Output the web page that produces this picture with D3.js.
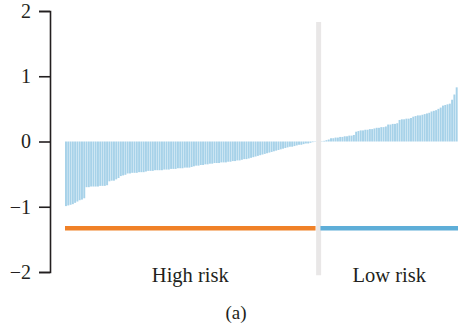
<!DOCTYPE html>
<html>
<head>
<meta charset="utf-8">
<script src="https://cdn.jsdelivr.net/npm/d3@7"></script>
<style>
    body { margin: 0; background: #fff; }
    svg text { font-family: "Liberation Serif", "DejaVu Serif", serif; fill: #231f20; }
</style>
</head>
<body>
<svg id="chart"></svg>
<script>
// risk score per patient, sorted (high risk group first)
const highRisk = [
    -0.99, -0.98, -0.97,
    -0.96, -0.94, -0.92, -0.90,
    -0.89, -0.87,
    -0.70, -0.70, -0.69, -0.69, -0.69, -0.69, -0.68, -0.68, -0.68, -0.67,
    -0.61, -0.60, -0.60, -0.58, -0.56,
    -0.53, -0.52, -0.51,
    -0.49, -0.49, -0.48, -0.48, -0.48, -0.47, -0.47, -0.47, -0.46,
    -0.45, -0.45, -0.45, -0.44, -0.44, -0.44, -0.44, -0.43, -0.43,
    -0.43, -0.42, -0.42, -0.42, -0.41, -0.41, -0.41, -0.40, -0.40, -0.40, -0.39,
    -0.38, -0.37, -0.37, -0.36, -0.36, -0.35, -0.35, -0.34, -0.34,
    -0.33, -0.33, -0.33, -0.32, -0.32, -0.32, -0.31, -0.31, -0.30, -0.30, -0.29, -0.29, -0.28,
    -0.27, -0.27, -0.26, -0.25, -0.24, -0.23, -0.22, -0.21, -0.20,
    -0.19, -0.18, -0.17, -0.16, -0.15, -0.14, -0.13, -0.12, -0.11, -0.10, -0.09, -0.08, -0.08, -0.07,
    -0.06, -0.05, -0.05, -0.04, -0.03, -0.03, -0.02, -0.01, -0.005
];
const lowRisk = [
    0.005, 0.01, 0.02, 0.03,
    0.05, 0.05, 0.06, 0.06, 0.07, 0.07, 0.08,
    0.08, 0.09, 0.09, 0.10,
    0.15, 0.16, 0.17, 0.17, 0.18, 0.18, 0.19, 0.19, 0.20,
    0.21, 0.21, 0.22, 0.22, 0.23,
    0.26, 0.26, 0.27, 0.27, 0.28,
    0.33, 0.34, 0.34, 0.35, 0.35, 0.36,
    0.38, 0.39, 0.40, 0.40, 0.41, 0.42, 0.43, 0.44,
    0.46, 0.47, 0.48, 0.50, 0.52,
    0.55, 0.56, 0.57, 0.58,
    0.64, 0.72, 0.83
];
const groupLabels = ['High risk', 'Low risk'];
const groupColors = ['#f08127', '#5eaed8'];
const yTicks = [-2, -1, 0, 1, 2];
const GAP = 2;          // empty slots between the groups
const GROUP_LINE_Y = -1.33;

const WIDTH = 461;
const HEIGHT = 328;

const svg = d3.select('#chart')
    .attr('width', WIDTH)
    .attr('height', HEIGHT);

const nTotal = highRisk.length + GAP + lowRisk.length;

const bars = highRisk.map((v, i) => ({ idx: i, v: v }))
    .concat(lowRisk.map((v, i) => ({ idx: highRisk.length + GAP + i, v: v })));

const xScale = d3.scaleLinear()
    .domain([0, nTotal])
    .range([65, 458]);
const yScale = d3.scaleLinear()
    .domain([-2, 2])
    .range([272, 11]);

const step = xScale(1) - xScale(0);

// bars
svg.append('g')
    .selectAll('rect')
    .data(bars)
    .join('rect')
    .attr('x', d => xScale(d.idx))
    .attr('width', step * 0.85)
    .attr('y', d => yScale(Math.max(0, d.v)))
    .attr('height', d => Math.abs(yScale(d.v) - yScale(0)))
    .attr('fill', '#a7d2e9');

// divider between groups
const divX = xScale(highRisk.length + GAP / 2);
svg.append('line')
    .attr('x1', divX).attr('x2', divX)
    .attr('y1', yScale(1.83)).attr('y2', yScale(-2.05))
    .attr('stroke', '#e9e7e7')
    .attr('stroke-width', 5);

// group bars
const groups = [
    [0, highRisk.length - 0.35],
    [highRisk.length + GAP - 0.2, nTotal]
];
groups.forEach((g, i) => {
    svg.append('line')
        .attr('x1', xScale(g[0])).attr('x2', xScale(g[1]))
        .attr('y1', yScale(GROUP_LINE_Y)).attr('y2', yScale(GROUP_LINE_Y))
        .attr('stroke', groupColors[i])
        .attr('stroke-width', 4.5);
    svg.append('text')
        .attr('x', (xScale(g[0]) + xScale(g[1])) / 2)
        .attr('y', 282)
        .attr('text-anchor', 'middle')
        .attr('font-size', 20.5)
        .text(groupLabels[i]);
});

// y axis
const yAxis = d3.axisLeft(yScale)
    .tickValues(yTicks)
    .tickSize(11)
    .tickSizeOuter(11)
    .tickPadding(8)
    .tickFormat(d => d < 0 ? '\u2212' + Math.abs(d) : d);
const ax = svg.append('g')
    .attr('transform', 'translate(50,0)')
    .call(yAxis);
ax.select('.domain').attr('stroke', '#231f20').attr('stroke-width', 1.6);
ax.selectAll('.tick line').attr('stroke', '#231f20').attr('stroke-width', 1.6);
ax.selectAll('.tick text')
    .attr('font-size', 20)
    .attr('font-family', '"Liberation Serif", serif')
    .attr('fill', '#231f20');

// caption
svg.append('text')
    .attr('x', 236)
    .attr('y', 319)
    .attr('text-anchor', 'middle')
    .attr('font-size', 19)
    .text('(a)');
</script>
</body>
</html>
